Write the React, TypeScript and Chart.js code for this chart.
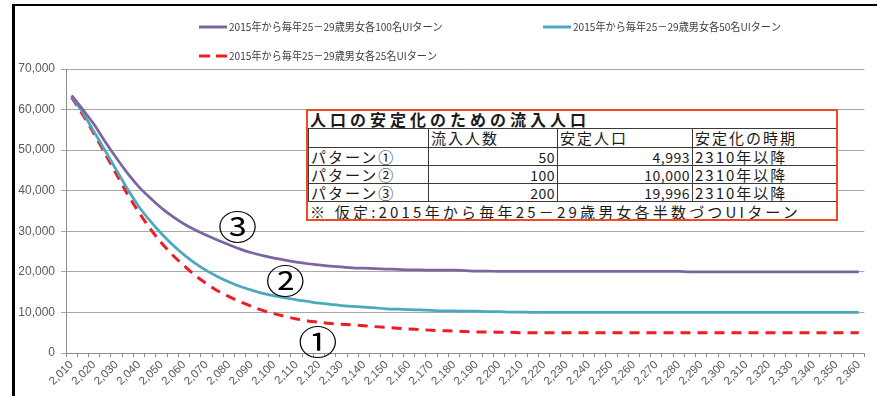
import React, { useEffect, useRef } from "react";
import { Chart, registerables } from "chart.js";

Chart.register(...registerables);

// Projection years (5-year steps)
const years = [
  2010, 2015, 2020, 2025, 2030, 2035, 2040, 2045, 2050, 2055,
  2060, 2065, 2070, 2075, 2080, 2085, 2090, 2095, 2100, 2105,
  2110, 2115, 2120, 2125, 2130, 2135, 2140, 2145, 2150, 2155,
  2160, 2165, 2170, 2175, 2180, 2185, 2190, 2195, 2200, 2205,
  2210, 2215, 2220, 2225, 2230, 2235, 2240, 2245, 2250, 2255,
  2260, 2265, 2270, 2275, 2280, 2285, 2290, 2295, 2300, 2305,
  2310, 2315, 2320, 2325, 2330, 2335, 2340, 2345, 2350, 2355,
  2360,
];

const label100 = "2015年から毎年25－29歳男女各100名UIターン";
const label50 = "2015年から毎年25－29歳男女各50名UIターン";
const label25 = "2015年から毎年25－29歳男女各25名UIターン";

// Population with 100 men + 100 women returning each year
const pop100 = [
  63500, 60000, 56300, 52000, 48000, 44200, 40900, 38200, 35700, 33600,
  31800, 30300, 29000, 27800, 26700, 25600, 24700, 24000, 23400, 22900,
  22400, 22000, 21700, 21400, 21200, 21000, 20900, 20800, 20700, 20600,
  20500, 20500, 20400, 20400, 20400, 20300, 20200, 20200, 20100, 20100,
  20100, 20100, 20100, 20100, 20100, 20100, 20100, 20100, 20100, 20100,
  20100, 20100, 20100, 20100, 20100, 20000, 20000, 20000, 20000, 20000,
  20000, 20000, 20000, 20000, 20000, 20000, 20000, 20000, 19996, 19996,
  19996,
];

// Population with 50 + 50 each year
const pop50 = [
  63300, 59200, 54500, 49800, 45000, 40300, 36000, 32500, 29400, 26600,
  24200, 22100, 20300, 18800, 17500, 16400, 15500, 14700, 14100, 13600,
  13100, 12700, 12300, 12000, 11700, 11500, 11300, 11100, 10900, 10800,
  10700, 10600, 10500, 10400, 10400, 10300, 10300, 10200, 10200, 10100,
  10100, 10000, 10000, 10000, 10000, 10000, 10000, 10000, 10000, 10000,
  10000, 10000, 10000, 10000, 10000, 10000, 10000, 10000, 10000, 10000,
  10000, 10000, 10000, 10000, 10000, 10000, 10000, 10000, 10000, 10000,
  10000,
];

// Population with 25 + 25 each year
const pop25 = [
  63000, 58700, 54000, 49000, 44000, 39000, 34600, 30600, 27100, 24100,
  21500, 19100, 17100, 15300, 13900, 12600, 11500, 10500, 9700, 9000,
  8400, 7900, 7600, 7300, 7100, 6900, 6700, 6500, 6300, 6100,
  5900, 5800, 5600, 5500, 5400, 5300, 5200, 5200, 5100, 5100,
  5000, 5000, 5000, 5000, 5000, 5000, 5000, 5000, 5000, 5000,
  5000, 5000, 5000, 5000, 5000, 5000, 5000, 5000, 5000, 5000,
  5000, 5000, 5000, 5000, 5000, 5000, 5000, 4993, 4993, 4993,
  4993,
];

const yMax = 70000;
const yStep = 10000;

// Summary table
const tableTitle = "人口の安定化のための流入人口";
const tableHeaders = ["", "流入人数", "安定人口", "安定化の時期"];
const patternNames = ["パターン①", "パターン②", "パターン③"];
const inflowCounts = [50, 100, 200];
const stablePops = [4993, 10000, 19996];
const stableFrom = ["2310年以降", "2310年以降", "2310年以降"];
const tableNote = "※ 仮定:2015年から毎年25－29歳男女各半数づつUIターン";

// Circled pattern numbers placed next to their curves (category index, value)
const curveMarks = [
  { text: "③", at: 14.75, value: 31400 },
  { text: "②", at: 19.0, value: 18000 },
  { text: "①", at: 21.9, value: 3000 },
];

const JP = '"Noto Sans CJK JP", "Noto Sans", sans-serif';
const NUM = '"Liberation Sans", Arial, sans-serif';

const legendSlots = [
  { x: 199, y: 27 },
  { x: 543, y: 27 },
  { x: 199, y: 56 },
];

const overlayPlugin = {
  id: "overlay",
  afterDraw(chart: any) {
    const ctx = chart.ctx as CanvasRenderingContext2D;
    // legend
    chart.data.datasets.forEach((ds: any, i: number) => {
      const s = legendSlots[i];
      ctx.save();
      ctx.strokeStyle = ds.borderColor;
      ctx.lineWidth = 3;
      ctx.lineCap = "butt";
      ctx.setLineDash(ds.borderDash ? [11, 6] : []);
      ctx.beginPath();
      ctx.moveTo(s.x, s.y);
      ctx.lineTo(s.x + 28, s.y);
      ctx.stroke();
      ctx.setLineDash([]);
      ctx.font = `11px ${JP}`;
      ctx.fillStyle = "#404040";
      ctx.textBaseline = "middle";
      ctx.textAlign = "left";
      ctx.translate(s.x + 30, s.y);
      ctx.scale(0.92, 1);
      ctx.fillText(ds.label, 0, 0);
      ctx.restore();
    });
    // circled numbers
    const xs = chart.scales.x;
    const ys = chart.scales.y;
    curveMarks.forEach((m) => {
      const px = xs.getPixelForValue(m.at);
      const py = ys.getPixelForValue(m.value);
      ctx.save();
      ctx.translate(px, py);
      ctx.scale(1.15, 1);
      ctx.font = `34px ${JP}`;
      ctx.fillStyle = "#000";
      ctx.textAlign = "center";
      ctx.textBaseline = "middle";
      ctx.fillText(m.text, 0, 1);
      ctx.restore();
    });
  },
};

function PopulationChart() {
  const ref = useRef<HTMLCanvasElement | null>(null);

  useEffect(() => {
    if (!ref.current) return;
    const chart = new Chart(ref.current, {
      type: "line",
      data: {
        labels: years,
        datasets: [
          {
            label: label100,
            data: pop100,
            borderColor: "#7D65A1",
            borderWidth: 2.75,
            pointRadius: 0,
            cubicInterpolationMode: "monotone",
          },
          {
            label: label50,
            data: pop50,
            borderColor: "#4BA9BE",
            borderWidth: 2.75,
            pointRadius: 0,
            cubicInterpolationMode: "monotone",
          },
          {
            label: label25,
            data: pop25,
            borderColor: "#EE1C25",
            borderWidth: 3,
            borderDash: [10, 7],
            borderCapStyle: "butt",
            pointRadius: 0,
            cubicInterpolationMode: "monotone",
          },
        ],
      },
      options: {
        animation: false,
        responsive: false,
        layout: { padding: { left: 0, top: 69, right: 12.6, bottom: 0 } },
        plugins: {
          legend: { display: false },
          tooltip: { enabled: false },
        },
        scales: {
          x: {
            offset: true,
            grid: {
              offset: true,
              drawOnChartArea: false,
              drawTicks: true,
              tickLength: 4,
              color: "#8c8c8c",
            },
            border: { color: "#8c8c8c" },
            ticks: {
              autoSkip: false,
              minRotation: 45,
              maxRotation: 45,
              padding: 1,
              color: "#595959",
              font: { family: NUM, size: 11.5 },
              callback: (_v: any, index: number) =>
                index % 2 === 0 ? years[index].toLocaleString("en-US") : "",
            },
            afterFit: (scale: any) => {
              scale.height = 43;
            },
          },
          y: {
            min: 0,
            max: yMax,
            grid: { color: "#a8a8a8", tickLength: 5 },
            border: { color: "#8c8c8c" },
            ticks: {
              stepSize: yStep,
              padding: 6,
              color: "#595959",
              font: { family: NUM, size: 12 },
              callback: (v: any) => Number(v).toLocaleString("en-US"),
            },
            afterFit: (scale: any) => {
              scale.width = 66;
            },
          },
        },
      },
      plugins: [overlayPlugin],
    } as any);
    return () => chart.destroy();
  }, []);

  return <canvas ref={ref} width={877} height={396} style={{ display: "block" }} />;
}

const cellBase: React.CSSProperties = {
  border: "1px solid #3a3a3a",
  padding: "0 2px",
  lineHeight: "16px",
  whiteSpace: "nowrap",
  overflow: "hidden",
  fontSize: 15,
  letterSpacing: "2px",
};
const numCell: React.CSSProperties = {
  ...cellBase,
  textAlign: "right",
  fontSize: 14,
  letterSpacing: "0.5px",
};
const colWidths = [120, 129, 135, 144];

function SummaryTable() {
  return (
    <div
      style={{
        position: "absolute",
        left: 306,
        top: 109,
        width: 532,
        height: 112,
        boxSizing: "border-box",
        border: "2px solid #EF4A23",
        background: "#fff",
        fontFamily: JP,
        color: "#1a1a1a",
        overflow: "hidden",
      }}
    >
      <div
        style={{
          height: 17,
          lineHeight: "17px",
          fontSize: 16,
          fontWeight: 700,
          letterSpacing: "4px",
          paddingLeft: 2,
          whiteSpace: "nowrap",
        }}
      >
        {tableTitle}
      </div>
      <table style={{ borderCollapse: "collapse", tableLayout: "fixed", width: 528 }}>
        <colgroup>
          {colWidths.map((w, i) => (
            <col key={i} style={{ width: w }} />
          ))}
        </colgroup>
        <tbody>
          <tr style={{ height: 19 }}>
            {tableHeaders.map((h, i) => (
              <td key={i} style={cellBase}>
                {h}
              </td>
            ))}
          </tr>
          {patternNames.map((p, i) => (
            <tr key={p} style={{ height: 18 }}>
              <td style={cellBase}>{p}</td>
              <td style={numCell}>{inflowCounts[i].toLocaleString("en-US")}</td>
              <td style={numCell}>{stablePops[i].toLocaleString("en-US")}</td>
              <td style={cellBase}>{stableFrom[i]}</td>
            </tr>
          ))}
        </tbody>
      </table>
      <div
        style={{
          height: 18,
          lineHeight: "19px",
          fontSize: 15,
          letterSpacing: "3.2px",
          paddingLeft: 2,
          whiteSpace: "nowrap",
        }}
      >
        {tableNote}
      </div>
    </div>
  );
}

export default function App() {
  return (
    <div
      style={{
        position: "fixed",
        left: 0,
        top: 0,
        width: 877,
        height: 396,
        background: "#fff",
        overflow: "hidden",
      }}
    >
      <PopulationChart />
      <SummaryTable />
      <div
        style={{
          position: "absolute",
          left: 12,
          top: 4,
          right: 0,
          bottom: 0,
          borderLeft: "3px solid #000",
          borderTop: "2px solid #000",
          pointerEvents: "none",
        }}
      />
    </div>
  );
}
